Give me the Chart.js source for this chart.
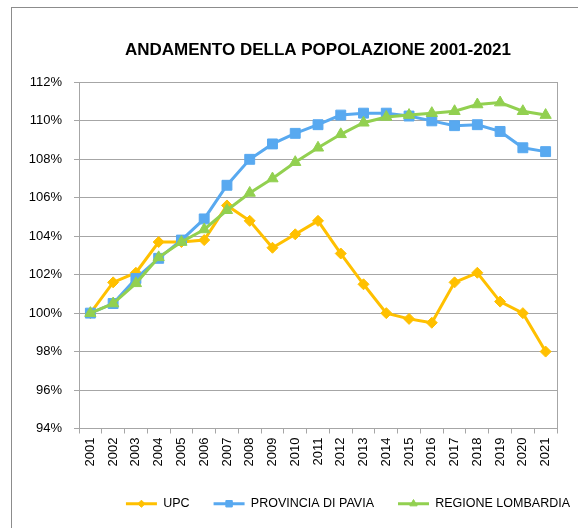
<!DOCTYPE html>
<html>
<head>
<meta charset="utf-8">
<script src="https://cdn.jsdelivr.net/npm/chart.js@4.4.1/dist/chart.umd.min.js"></script>
<style>
  html, body { margin: 0; padding: 0; background: #fff; }
  #frame { position: absolute; left: 11px; top: 7px; width: 700px; height: 700px;
           border-left: 1px solid #8c8c8c; border-top: 1px solid #8c8c8c; }
  #chart { position: absolute; left: 0; top: 0; }
</style>
</head>
<body>
<div id="frame"></div>
<canvas id="chart" width="578" height="528"></canvas>
<script>
// anni
const years = ['2001', '2002', '2003', '2004', '2005', '2006', '2007', '2008', '2009', '2010', '2011',
  '2012', '2013', '2014', '2015', '2016', '2017', '2018', '2019', '2020', '2021'];

// valori in % rispetto al 2001
const upc = [100.0, 101.6, 102.1, 103.7, 103.7, 103.8, 105.6, 104.8, 103.4, 104.1, 104.8,
  103.1, 101.5, 100.0, 99.7, 99.5, 101.6, 102.1, 100.6, 100.0, 98.0];
const pavia = [100.0, 100.5, 101.8, 102.85, 103.8, 104.9, 106.65, 108.0, 108.8, 109.35, 109.8,
  110.3, 110.4, 110.4, 110.25, 110.0, 109.75, 109.8, 109.45, 108.6, 108.4];
const lombardia = [100.0, 100.5, 101.55, 102.9, 103.7, 104.35, 105.35, 106.25, 107.0, 107.85, 108.6,
  109.3, 109.9, 110.2, 110.3, 110.4, 110.5, 110.85, 110.95, 110.5, 110.3];

const FONT = "'Liberation Sans', Arial, sans-serif";
const GRID = '#a6a6a6';

function serie(label, data, color, style, radius, order) {
  return {
    label, data, order,
    borderColor: color, backgroundColor: color,
    pointBackgroundColor: color, pointBorderColor: color, pointBorderWidth: 1,
    pointStyle: style, pointRadius: radius, pointHoverRadius: radius,
    borderWidth: 3, tension: 0, fill: false
  };
}

// disegna il marker sopra la linea della legenda
const legendMarks = {
  id: 'legendMarks',
  afterDraw(chart) {
    const lg = chart.legend;
    if (!lg || !lg.legendHitBoxes) return;
    const ctx = chart.ctx;
    lg.legendHitBoxes.forEach((b, i) => {
      const ds = chart.data.datasets[lg.legendItems[i].datasetIndex];
      ctx.save();
      ctx.fillStyle = ds.borderColor; ctx.strokeStyle = ds.borderColor;
      Chart.helpers.drawPoint(ctx, { pointStyle: ds.pointStyle, radius: ds.pointRadius * 0.65, rotation: 0, borderWidth: 1 },
        b.left + lg.options.labels.boxWidth / 2, b.top + b.height / 2);
      ctx.restore();
    });
  }
};

new Chart(document.getElementById('chart'), {
  type: 'line',
  data: {
    labels: years,
    datasets: [
      serie('UPC', upc, '#ffc000', 'rectRot', 5.5, 3),
      serie('PROVINCIA DI PAVIA', pavia, '#58a9f0', 'rect', 7, 2),
      serie('REGIONE LOMBARDIA', lombardia, '#92d050', 'triangle', 6.5, 1)
    ]
  },
  options: {
    responsive: false,
    animation: false,
    devicePixelRatio: 1,
    layout: { padding: { left: 0, right: -16, top: 0, bottom: 8 } },
    plugins: {
      tooltip: { enabled: false },
      title: {
        display: true, text: 'ANDAMENTO DELLA POPOLAZIONE 2001-2021', fullSize: false,
        color: '#000', font: { family: FONT, size: 17, weight: 'bold' },
        padding: { top: 40, bottom: 22 }
      },
      legend: {
        position: 'bottom', align: 'end',
        labels: {
          boxWidth: 31, boxHeight: 3, padding: 24, color: '#000',
          font: { family: FONT, size: 12.5 },
          sort: (a, b) => a.datasetIndex - b.datasetIndex,
          generateLabels: chart => Chart.defaults.plugins.legend.labels.generateLabels(chart)
            .map(l => Object.assign(l, { lineWidth: 0 }))
        }
      }
    },
    scales: {
      x: {
        offset: true,
        grid: { display: true, drawOnChartArea: false, drawTicks: true, tickLength: 5, color: GRID, offset: true },
        border: { display: true, color: GRID },
        ticks: { color: '#000', font: { family: FONT, size: 13 }, minRotation: 90, maxRotation: 90, padding: 4, autoSkip: false },
        afterFit: s => { s.height = 45; }
      },
      y: {
        min: 94, max: 112,
        grid: { color: GRID, tickLength: 5 },
        border: { display: true, color: GRID },
        ticks: { stepSize: 2, color: '#000', font: { family: FONT, size: 13 }, padding: 12, callback: v => v + '%' },
        afterFit: s => { s.width = 79; }
      },
      yR: {
        position: 'right', min: 94, max: 112,
        grid: { drawOnChartArea: false, drawTicks: false },
        border: { display: true, color: GRID },
        ticks: { display: false },
        afterFit: s => { s.width = 37; }
      }
    }
  },
  plugins: [legendMarks]
});
</script>
</body>
</html>
